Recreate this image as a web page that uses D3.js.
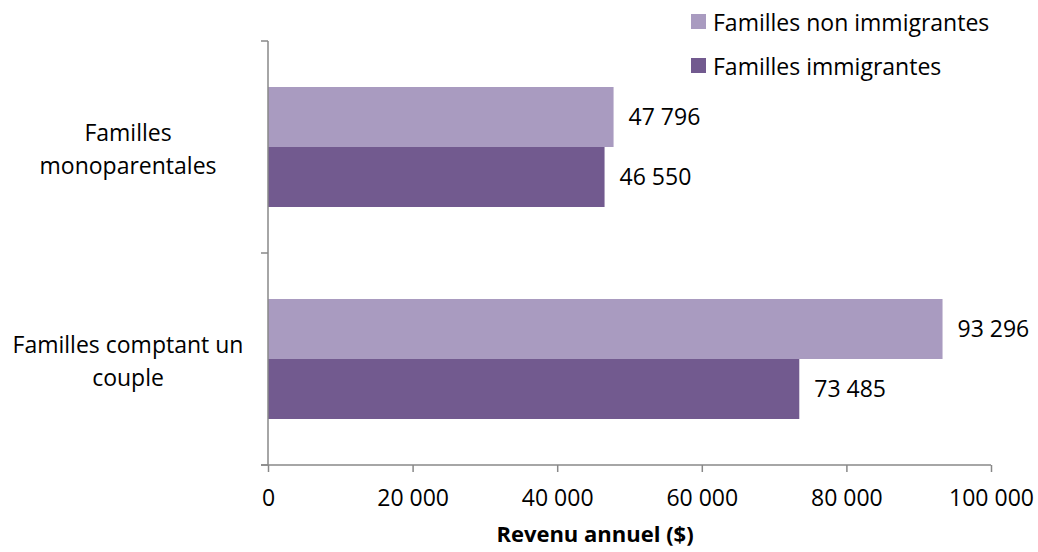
<!DOCTYPE html>
<html>
<head>
<meta charset="utf-8">
<script src="https://cdn.jsdelivr.net/npm/d3@7"></script>
<style>
body { margin: 0; background: #fff; }
text { font-family: "Open Sans", Lato, sans-serif; fill: #000; }
</style>
</head>
<body>
<div id="chart"></div>
<script>
// data
var categories = ["Familles monoparentales", "Familles comptant un couple"];
var catLines = [["Familles", "monoparentales"], ["Familles comptant un", "couple"]];
var seriesNames = ["Familles non immigrantes", "Familles immigrantes"];
var nonImmigrant = [47796, 93296];
var immigrant = [46550, 73485];
var xTicks = [0, 20000, 40000, 60000, 80000, 100000];
var colors = ["#A99BC0", "#725A8F"];

var width = 1038, height = 552;
var margin = {top: 41, right: 47, bottom: 87, left: 268};
var w = width - margin.left - margin.right;
var h = height - margin.top - margin.bottom;
var fs = 23;

var fmt = function(v) { return d3.format(",")(v).replace(/,/g, " "); };

var svg = d3.select("#chart").append("svg")
    .attr("width", width)
    .attr("height", height);

var g = svg.append("g")
    .attr("transform", "translate(" + margin.left + "," + margin.top + ")");

var x = d3.scaleLinear().domain([0, 100000]).range([0, w]);
var y = d3.scaleBand().domain(categories).range([0, h]).paddingInner(0.434).paddingOuter(0.217);
var ySub = d3.scaleBand().domain(seriesNames).range([0, y.bandwidth()]);

var table = categories.map(function(c, i) {
  return {cat: c, vals: [nonImmigrant[i], immigrant[i]]};
});

// bars
var grp = g.selectAll(".cat").data(table).enter().append("g")
    .attr("transform", function(d) { return "translate(0," + y(d.cat) + ")"; });

grp.selectAll("rect").data(function(d) { return d.vals.map(function(v, j) { return {v: v, s: seriesNames[j], j: j}; }); })
  .enter().append("rect")
    .attr("x", 0)
    .attr("y", function(d) { return ySub(d.s); })
    .attr("width", function(d) { return x(d.v); })
    .attr("height", ySub.bandwidth())
    .attr("fill", function(d) { return colors[d.j]; });

grp.selectAll(".lbl").data(function(d) { return d.vals.map(function(v, j) { return {v: v, s: seriesNames[j]}; }); })
  .enter().append("text")
    .attr("class", "lbl")
    .attr("x", function(d) { return x(d.v) + 15; })
    .attr("y", function(d) { return ySub(d.s) + ySub.bandwidth() / 2; })
    .attr("dy", "0.35em")
    .attr("font-size", fs)
    .text(function(d) { return fmt(d.v); });

// y axis
var yTickPos = [0, h / 2, h];
g.append("line").attr("x1", 0).attr("x2", 0).attr("y1", 0).attr("y2", h)
    .attr("stroke", "#888").attr("stroke-width", 1.5);
g.selectAll(".ytick").data(yTickPos).enter().append("line")
    .attr("x1", -7).attr("x2", 0)
    .attr("y1", function(d) { return d; }).attr("y2", function(d) { return d; })
    .attr("stroke", "#888").attr("stroke-width", 1.5);

// category labels
table.forEach(function(d, i) {
  var cy = y(d.cat) + y.bandwidth() / 2;
  var t = g.append("text")
      .attr("x", -140)
      .attr("y", cy - 6)
      .attr("text-anchor", "middle")
      .attr("font-size", fs);
  catLines[i].forEach(function(line, k) {
    t.append("tspan").attr("x", -140).attr("dy", k === 0 ? 0 : 33).text(line);
  });
});

// x axis
var xAxis = g.append("g")
    .attr("transform", "translate(0," + h + ")")
    .call(d3.axisBottom(x).tickValues(xTicks).tickFormat(fmt).tickSize(7).tickPadding(18));
xAxis.select(".domain").attr("stroke", "#888").attr("stroke-width", 1.5).attr("d", "M-7,0H" + w);
xAxis.selectAll(".tick line").attr("stroke", "#888").attr("stroke-width", 1.5);
xAxis.selectAll(".tick text").attr("font-size", fs).attr("font-family", "'Open Sans', Lato, sans-serif").attr("fill", "#000");

g.append("text")
    .attr("x", 327)
    .attr("y", h + 77)
    .attr("text-anchor", "middle")
    .attr("font-size", 22)
    .attr("font-weight", "bold")
    .text("Revenu annuel ($)");

// legend
var leg = svg.append("g").attr("transform", "translate(691,14)");
var li = leg.selectAll("g").data(seriesNames).enter().append("g")
    .attr("transform", function(d, i) { return "translate(0," + (i * 44) + ")"; });
li.append("rect").attr("width", 15).attr("height", 15)
    .attr("fill", function(d, i) { return colors[i]; });
li.append("text").attr("x", 22).attr("y", 9).attr("dy", "0.35em")
    .attr("font-size", fs)
    .text(function(d) { return d; });
</script>
</body>
</html>
